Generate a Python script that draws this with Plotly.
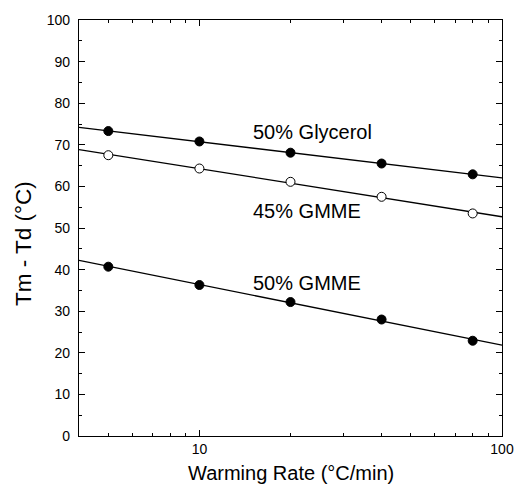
import numpy as np
import plotly.graph_objects as go

rates = [5, 10, 20, 40, 80]
glycerol_50 = [73.3, 70.8, 68.1, 65.5, 62.9]
gmme_45 = [67.5, 64.3, 61.1, 57.5, 53.5]
gmme_50 = [40.7, 36.3, 32.2, 28.0, 22.9]
series_names = ["50% Glycerol", "45% GMME", "50% GMME"]
label_y = [73.0, 54.1, 36.9]
label_x = 14.8
x_range = [4, 100]

FONT = "Liberation Sans, Arial"
fig = go.Figure()
series = [glycerol_50, gmme_45, gmme_50]
filled = [True, False, True]
for name, vals, fill, ly in zip(series_names, series, filled, label_y):
    k, b = np.polyfit(np.log10(rates), vals, 1)
    xs = np.array(x_range, dtype=float)
    fig.add_trace(go.Scatter(x=xs, y=k * np.log10(xs) + b, mode="lines",
                             line=dict(color="black", width=1.3), showlegend=False,
                             hoverinfo="skip"))
    fig.add_trace(go.Scatter(x=rates, y=vals, mode="markers", showlegend=False,
                             marker=dict(size=9, color="black" if fill else "white",
                                         line=dict(color="black", width=1))))
    fig.add_annotation(x=np.log10(label_x), y=ly, text=name, showarrow=False,
                       xanchor="left", yanchor="middle",
                       font=dict(family=FONT, size=20, color="black"))

fig.add_annotation(x=0.5, y=-0.09, xref="paper", yref="paper", text="Warming Rate (°C/min)",
                   showarrow=False, xanchor="center", yanchor="middle",
                   font=dict(family=FONT, size=20, color="black"))
fig.add_annotation(x=-0.131, y=0.463, xref="paper", yref="paper", text="Tm - Td (°C)",
                   showarrow=False, xanchor="center", yanchor="middle", textangle=-90,
                   font=dict(family=FONT, size=22.5, color="black"))

fig.update_xaxes(type="log", range=[np.log10(x_range[0]), np.log10(x_range[1])],
                 tickvals=[10, 100], ticktext=["10", "100"],
                 ticks="inside", ticklen=6, tickcolor="black", tickwidth=1,
                 minor=dict(ticks="inside", ticklen=3, tickcolor="black",
                            tickvals=[4, 5, 6, 7, 8, 9, 20, 30, 40, 50, 60, 70, 80, 90]),
                 showline=True, linecolor="black", linewidth=1.3, mirror="allticks",
                 showgrid=False, zeroline=False,
                 tickfont=dict(size=14))
fig.update_yaxes(range=[0, 100], dtick=10, ticks="inside", ticklen=6, tickcolor="black",
                 minor=dict(ticks="inside", ticklen=3, tickcolor="black", dtick=5),
                 showline=True, linecolor="black", linewidth=1.3, mirror="allticks",
                 showgrid=False, zeroline=False, ticklabelstandoff=5,
                 tickfont=dict(size=14))
fig.update_layout(width=526, height=498, margin=dict(l=79, r=21, t=13, b=62),
                  plot_bgcolor="white", paper_bgcolor="white",
                  font=dict(family=FONT, color="black"))
fig.write_html("out.html")
